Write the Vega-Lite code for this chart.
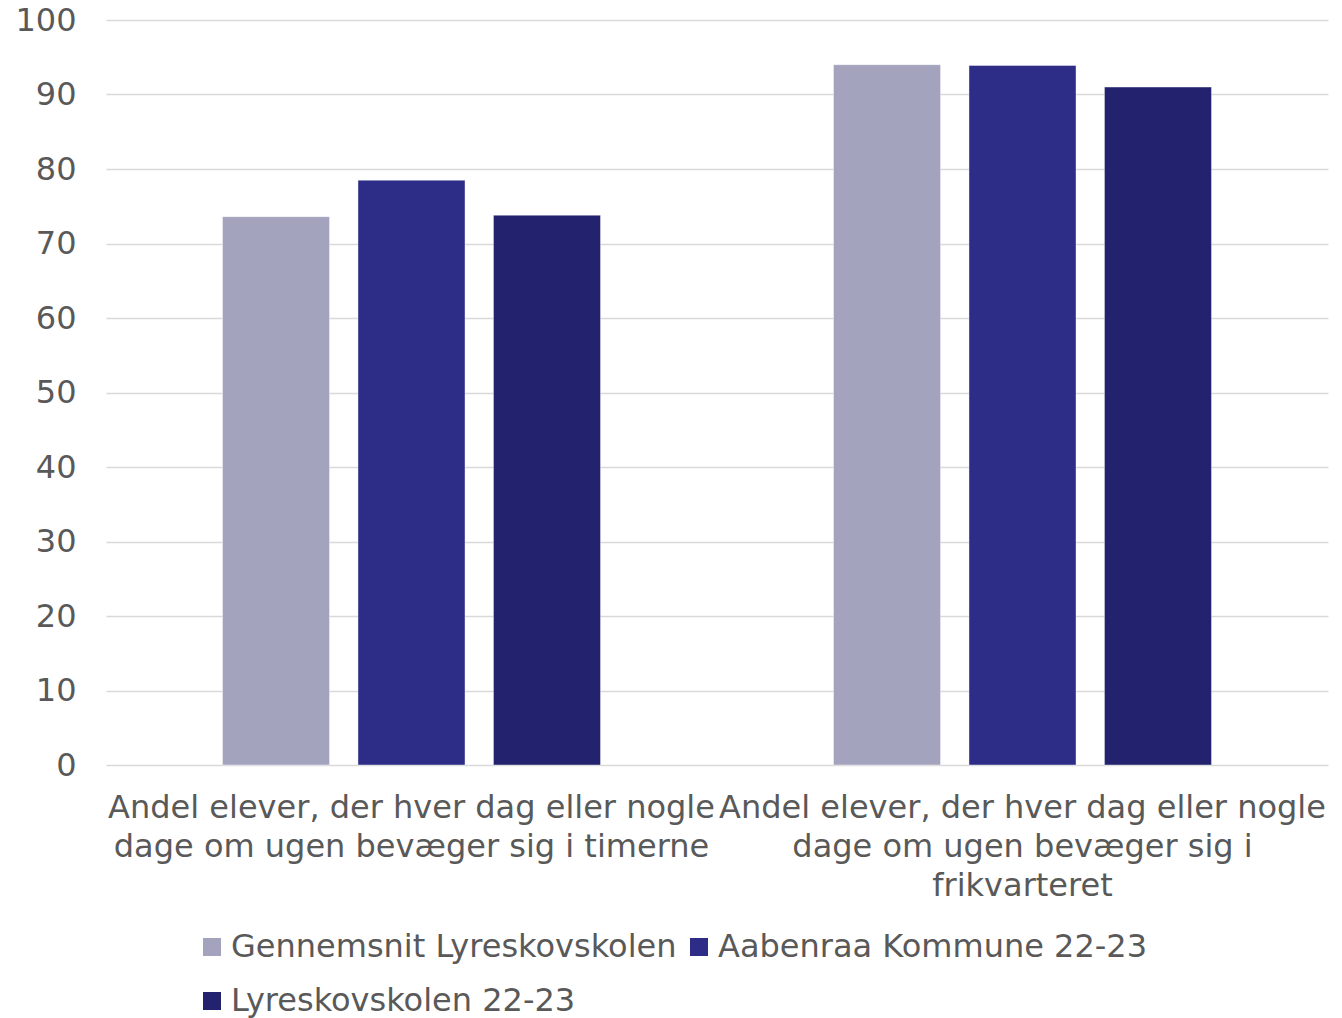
{
  "$schema": "https://vega.github.io/schema/vega-lite/v6.json",
  "width": 1222,
  "height": 745,
  "autosize": {"type": "none"},
  "padding": {"left": 106, "right": 14, "top": 20, "bottom": 253},
  "background": "white",
  "config": {
    "font": "DejaVu Sans",
    "view": {"stroke": null},
    "axis": {"labelColor": "#595959", "labelFont": "DejaVu Sans"},
    "legend": {"labelColor": "#595959", "labelFont": "DejaVu Sans"}
  },
  "data": {
    "values": [
      {"kategori": "Andel elever, der hver dag eller nogle|dage om ugen bevæger sig i timerne", "serie": "Gennemsnit Lyreskovskolen", "andel": 73.6},
      {"kategori": "Andel elever, der hver dag eller nogle|dage om ugen bevæger sig i timerne", "serie": "Aabenraa Kommune 22-23", "andel": 78.5},
      {"kategori": "Andel elever, der hver dag eller nogle|dage om ugen bevæger sig i timerne", "serie": "Lyreskovskolen 22-23", "andel": 73.8},
      {"kategori": "Andel elever, der hver dag eller nogle|dage om ugen bevæger sig i|frikvarteret", "serie": "Gennemsnit Lyreskovskolen", "andel": 94.0},
      {"kategori": "Andel elever, der hver dag eller nogle|dage om ugen bevæger sig i|frikvarteret", "serie": "Aabenraa Kommune 22-23", "andel": 93.9},
      {"kategori": "Andel elever, der hver dag eller nogle|dage om ugen bevæger sig i|frikvarteret", "serie": "Lyreskovskolen 22-23", "andel": 91.0}
    ]
  },
  "mark": {"type": "bar", "stroke": "white", "strokeOpacity": 0.4, "strokeWidth": 1},
  "encoding": {
    "x": {
      "field": "kategori",
      "type": "nominal",
      "sort": null,
      "title": null,
      "scale": {"paddingInner": 0, "paddingOuter": 0},
      "axis": {
        "labelExpr": "split(datum.label, '|')",
        "labelAngle": 0,
        "labelFontSize": 32,
        "labelLineHeight": 39,
        "labelPadding": 27,
        "labelLimit": 700,
        "domain": false,
        "ticks": false,
        "labelBaseline": "top"
      }
    },
    "xOffset": {
      "field": "serie",
      "type": "nominal",
      "sort": ["Gennemsnit Lyreskovskolen", "Aabenraa Kommune 22-23", "Lyreskovskolen 22-23"],
      "scale": {"paddingInner": 0.21, "paddingOuter": 0.86}
    },
    "y": {
      "field": "andel",
      "type": "quantitative",
      "title": null,
      "scale": {"domain": [0, 100]},
      "axis": {
        "values": [0, 10, 20, 30, 40, 50, 60, 70, 80, 90, 100],
        "labelFontSize": 32,
        "labelPadding": 30,
        "domain": false,
        "ticks": false,
        "gridColor": "#D9D9D9",
        "gridWidth": 1.5
      }
    },
    "color": {
      "field": "serie",
      "type": "nominal",
      "sort": ["Gennemsnit Lyreskovskolen", "Aabenraa Kommune 22-23", "Lyreskovskolen 22-23"],
      "scale": {
        "domain": ["Gennemsnit Lyreskovskolen", "Aabenraa Kommune 22-23", "Lyreskovskolen 22-23"],
        "range": ["#A3A3BE", "#2D2D87", "#22226E"]
      },
      "legend": {
        "title": null,
        "orient": "none",
        "legendX": 90,
        "legendY": 911,
        "direction": "horizontal",
        "columns": 2,
        "symbolType": "square",
        "symbolSize": 324,
        "symbolStrokeWidth": 0,
        "labelFontSize": 32,
        "labelOffset": 3,
        "columnPadding": 6,
        "rowPadding": 22,
        "labelLimit": 600
      }
    }
  }
}
